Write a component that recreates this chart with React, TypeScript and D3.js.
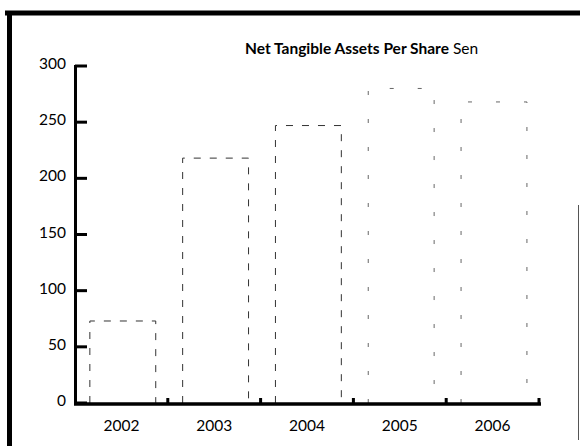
import * as d3 from "d3";

const years = ["2002", "2003", "2004", "2005", "2006"];
const ntaPerShare = [73, 218, 247, 280, 268];
const yTicks = [0, 50, 100, 150, 200, 250, 300];

const W = 580;
const H = 446;
const FONT = "Lato, 'Open Sans', sans-serif";

export default function App() {
  const x = d3.scaleBand<string>().domain(years).range([75, 539]).padding(0);
  const y = d3.scaleLinear().domain([0, 300]).range([403, 66]);
  const bw = x.bandwidth();
  // boundaries between the year bands carry the small upward ticks
  const bounds = years.map((yr) => (x(yr) ?? 0) + bw);

  return (
    <svg
      width={W}
      height={H}
      style={{ position: "fixed", left: 0, top: 0, background: "#fff" }}
    >
      {/* scanned frame */}
      <line x1={5} x2={580} y1={13} y2={13} stroke="#000" strokeWidth={5} />
      <line x1={9.5} x2={9.5} y1={11} y2={446} stroke="#000" strokeWidth={5} />
      <line x1={578.5} x2={578.5} y1={205} y2={440} stroke="#555" strokeWidth={1} />

      <text x={245} y={54} fontFamily={FONT} fontSize={15.5} fill="#000">
        <tspan fontWeight="bold">Net Tangible Assets Per Share</tspan>
        <tspan> Sen</tspan>
      </text>

      {/* bars: white with faint dashed outlines */}
      {years.map((yr, i) => {
        const x0 = (x(yr) ?? 0) + bw * 0.16;
        const w = bw * 0.71;
        const faint = i >= 3;
        return (
          <path
            key={yr}
            d={`M${x0},${y(0)}V${y(ntaPerShare[i])}H${x0 + w}V${y(0)}`}
            fill="none"
            stroke={faint ? "#666" : "#333"}
            strokeWidth={1}
            strokeDasharray={faint ? "4 24" : "7 9"}
          />
        );
      })}

      {/* y axis */}
      <line x1={75.5} x2={75.5} y1={y(300) - 1} y2={y(0) + 1} stroke="#000" strokeWidth={3} />
      {yTicks.map((t) => (
        <g key={t}>
          <line x1={75} x2={87} y1={y(t)} y2={y(t)} stroke="#000" strokeWidth={3} />
          <text
            x={66}
            y={y(t) + 3}
            textAnchor="end"
            fontFamily={FONT}
            fontSize={15.5}
            fill="#000"
          >
            {t}
          </text>
        </g>
      ))}

      {/* x axis */}
      <line x1={74} x2={541} y1={y(0) + 1} y2={y(0) + 1} stroke="#000" strokeWidth={3.5} />
      {bounds.map((b) => (
        <rect key={b} x={b - 1.5} y={y(0) - 5} width={3} height={6} fill="#000" />
      ))}
      {years.map((yr) => (
        <text
          key={yr}
          x={(x(yr) ?? 0) + bw / 2}
          y={431}
          textAnchor="middle"
          fontFamily={FONT}
          fontSize={15.5}
          fill="#000"
        >
          {yr}
        </text>
      ))}
    </svg>
  );
}
